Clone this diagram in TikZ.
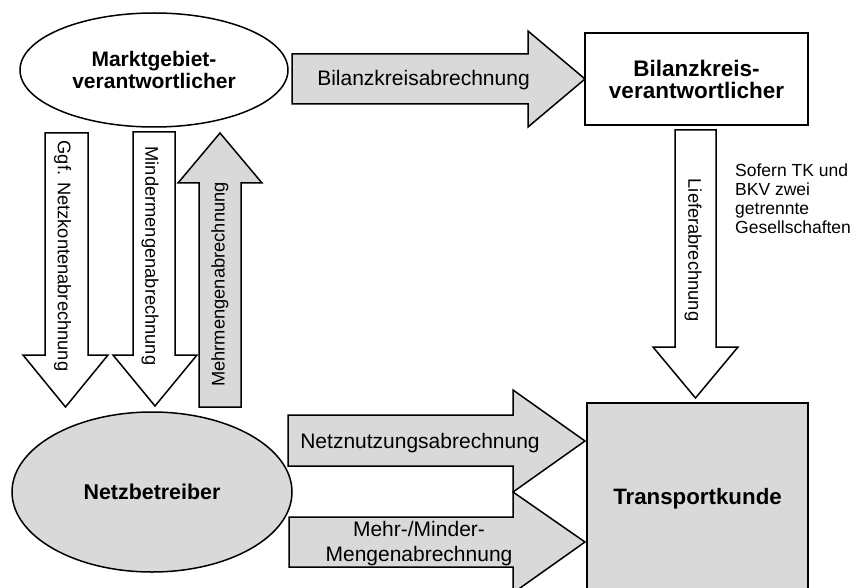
\documentclass[tikz,border=0pt]{standalone}
\usepackage{fontspec}
\setmainfont{Liberation Sans}
\usetikzlibrary{shapes.geometric}
\definecolor{lgrey}{HTML}{D9D9D9}
\begin{document}
\begin{tikzpicture}[x=1pt,y=-1pt,
  shapeline/.style={draw=black, line width=1.5pt},
  boldtxt/.style={font=\fontsize{21}{22}\selectfont\bfseries, align=center, inner sep=0pt},
  blk/.style={draw=black, line width=1.5pt, line join=miter, miter limit=10},
  blkw/.style={blk, fill=white},
  blkg/.style={blk, fill=lgrey},
  lbl/.style={font=\fontsize{21}{25}\selectfont, inner sep=0pt},
  rlbl/.style={font=\fontsize{18.3}{22}\selectfont, inner sep=0pt},
  note/.style={font=\fontsize{17.5}{19}\selectfont, align=left, inner sep=0pt}
]
\useasboundingbox (0,0) rectangle (864,588);

% main nodes
\node[shapeline, ellipse, fill=white, minimum width=268pt, minimum height=114pt, boldtxt] (mgv) at (154,70) {Marktgebiet-\\verantwortlicher};
\node[shapeline, rectangle, fill=white, minimum width=223pt, minimum height=92pt, boldtxt, font=\fontsize{22.5}{22}\selectfont\bfseries] (bkv) at (696.5,79) {Bilanzkreis-\\verantwortlicher};
\node[shapeline, ellipse, fill=lgrey, minimum width=280pt, minimum height=160pt, boldtxt, font=\fontsize{21.4}{22}\selectfont\bfseries] (nb) at (152,492) {Netzbetreiber};
\node[shapeline, rectangle, fill=lgrey, minimum width=221pt, minimum height=192pt, boldtxt, font=\fontsize{22.3}{22}\selectfont\bfseries] (tk) at (697.5,499) {Transportkunde};

% block arrows
\path[blkg] (292,54) coordinate (bka) -- (528,54) -- (528,31) -- (585,79) coordinate (bkt) -- (528,127) -- (528,104) -- (292,104) -- cycle;
\path[blkw] (675,130) coordinate (lfa) -- (716,130) -- (716,347) -- (738,347) -- (695.5,398) coordinate (lft) -- (653,347) -- (675,347) -- cycle;
\path[blkw] (45,133) coordinate (nka) -- (88,133) -- (88,355) -- (108,355) -- (65.5,407) coordinate (nkt) -- (23,355) -- (45,355) -- cycle;
\path[blkw] (133,132) coordinate (mia) -- (175,132) -- (175,355) -- (197,355) -- (155,406) coordinate (mit) -- (113,355) -- (133,355) -- cycle;
\path[blkg] (199,407) coordinate (mea) -- (241,407) -- (241,183) -- (262,183) -- (220,133) coordinate (met) -- (178,183) -- (199,183) -- cycle;
\path[blkg] (288,415) coordinate (nna) -- (513,415) -- (513,390) -- (585,441) coordinate (nnt) -- (513,492) -- (513,466) -- (288,466) -- cycle;
\path[blkg] (289,517) coordinate (mma) -- (513,517) -- (513,492) -- (585,542) coordinate (mmt) -- (513,593) -- (513,567) -- (289,567) -- cycle;

% arrow labels
\node[lbl, anchor=base] (l1) at (423.5,86) {Bilanzkreisabrechnung};
\node[lbl, anchor=base] (l2) at (420,448) {Netznutzungsabrechnung};
\node[lbl, align=center] (l3) at (419,544) {Mehr-/Minder-\\Mengenabrechnung};
\node[rlbl, rotate=-90] (l4) at (62.5,256) {Ggf. Netzkontenabrechnung};
\node[rlbl, rotate=-90] (l5) at (150,256) {Mindermengenabrechnung};
\node[rlbl, rotate=90] (l6) at (220,284.5) {Mehrmengenabrechnung};
\node[rlbl, rotate=-90] (l7) at (693,250) {Lieferabrechnung};
\node[note, anchor=west] (n1) at (735,198.5) {Sofern TK und\\BKV zwei\\getrennte\\Gesellschaften};
\end{tikzpicture}
\end{document}
